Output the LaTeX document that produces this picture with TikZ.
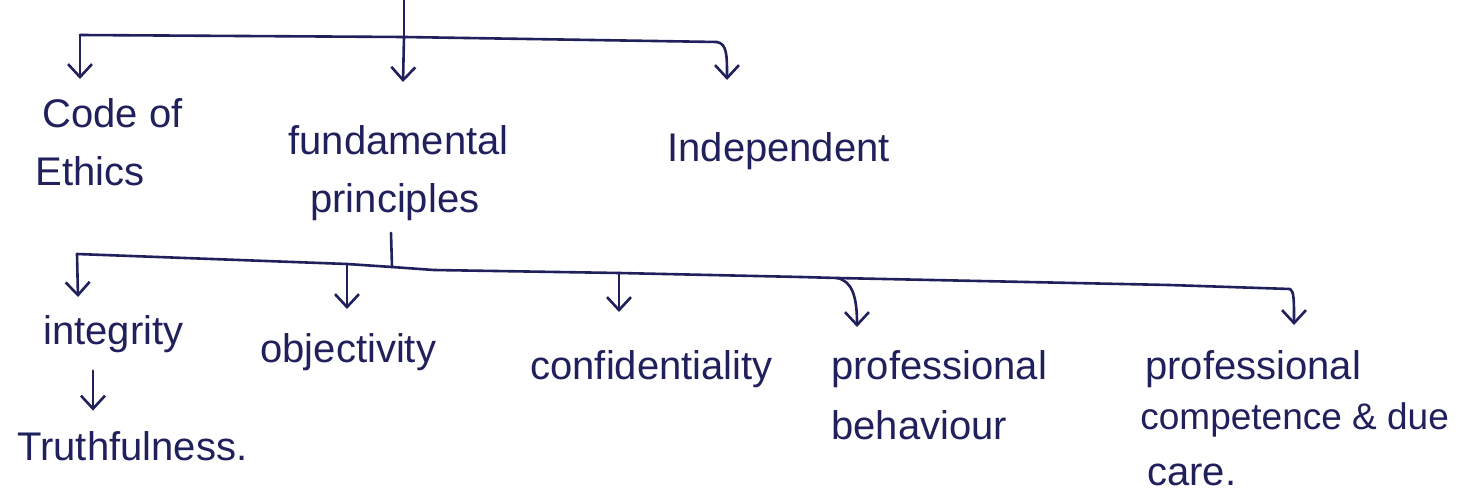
\documentclass[tikz,border=0pt]{standalone}
\usepackage{fontspec}
\setmainfont{Liberation Sans}
\usetikzlibrary{arrows.meta}
\definecolor{ink}{RGB}{32,32,92}
\tikzset{
  ln/.style={draw=ink, line width=1.3pt, line cap=round, line join=round},
  arr/.style={ln, -{Straight Barb[length=6.5pt,width=12pt]}},
  txt/.style={text=ink, inner sep=0pt, anchor=base west, font=\fontsize{20pt}{24pt}\selectfont}
}
\begin{document}
\begin{tikzpicture}[x=0.5pt,y=-0.5pt]
\useasboundingbox (0,0) rectangle (1470,497);

% ---- text nodes ----
\node[txt] (code)   at (42,128)  {Code of};
\node[txt] (code2)  at (35,185)  {Ethics};
\node[txt] (fund)   at (288,155) {fundamental};
\node[txt] (fund2)  at (310,213) {principles};
\node[txt] (indep)  at (667,162) {Independent};

\node[txt] (integ)  at (43,344)  {integrity};
\node[txt] (objec)  at (260,362) {objectivity};
\node[txt] (confid) at (530,379) {confidentiality};
\node[txt] (profb)  at (831,379) {professional};
\node[txt] (profb2) at (831,439) {behaviour};
\node[txt] (profc)  at (1145,379){professional};
\node[txt, font=\fontsize{18.5pt}{22pt}\selectfont] (profc2) at (1140,429){competence \& due};
\node[txt] (profc3) at (1147,485){care.};
\node[txt] (truth)  at (17,460)  {Truthfulness.};

% ---- level 1 ----
\coordinate (root) at (404,0);
\coordinate (j0)   at (404,37);
\coordinate (c1)   at (80,35);
\coordinate (c3)   at (717,42);
\coordinate (tcode)  at (80,79);
\coordinate (tfund)  at (403,82);
\coordinate (tindep) at (727,80);

\draw[ln] (root) -- (j0);
\draw[ln] (c1) -- (j0) -- (c3);
\draw[arr] (c1) -- (tcode);
\draw[arr] (j0) -- (tfund);
\draw[arr] (c3) .. controls (727,44) and (727,55) .. (tindep);

% ---- level 2 ----
\coordinate (s1) at (391,233);
\coordinate (j1) at (392,267);
\coordinate (d1) at (77,254);
\coordinate (d2) at (347,264);
\coordinate (d3) at (619,273);
\coordinate (d4) at (837,278);
\coordinate (d5) at (1290,289);
\coordinate (tinteg)  at (78,297);
\coordinate (tobjec)  at (347,309);
\coordinate (tconfid) at (619,312);
\coordinate (tprofb)  at (857,327);
\coordinate (tprofc)  at (1294,325);

\draw[ln] (s1) -- (j1);
\draw[ln] (d1) -- (d2) -- (j1) -- (434,270) -- (d3) -- (801,277) -- (d4) -- (1169,285) -- (d5);
\draw[arr] (d1) -- (tinteg);
\draw[arr] (d2) -- (tobjec);
\draw[arr] (d3) -- (tconfid);
\draw[arr] (d4) .. controls (852,281) and (857,296) .. (tprofb);
\draw[arr] (d5) .. controls (1294,291) and (1294,300) .. (tprofc);

% ---- integrity -> truthfulness ----
\coordinate (ax) at (93,0);
\draw[arr, shorten <=9pt, shorten >=10pt] (integ.south -| ax) -- (truth.north -| ax);
\end{tikzpicture}
\end{document}
